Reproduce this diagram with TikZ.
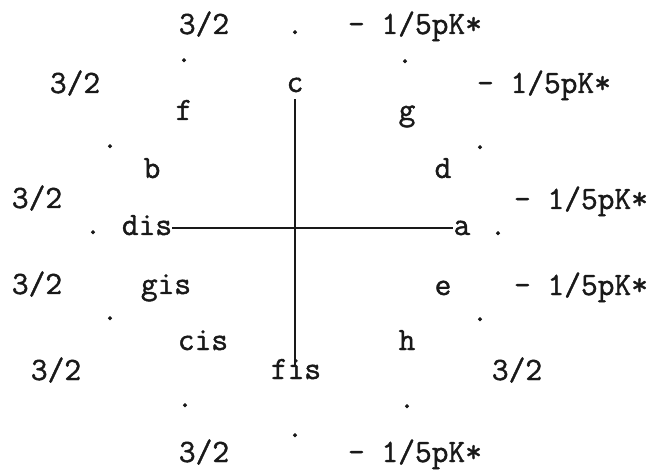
\documentclass[tikz,border=0pt]{standalone}
\usepackage{fontspec}
\newfontfamily\courfont[FakeBold=1.3]{Latin Modern Mono}
\begin{document}
\begin{tikzpicture}[x=1pt,y=-1pt,
  lbl/.style={anchor=base,inner sep=0pt,font=\courfont\fontsize{32.5}{32.5}\selectfont,text=black!90},
  conn/.style={line width=1.7pt,black!90}]
\useasboundingbox[fill=white] (0,0) rectangle (653,470);
% note names
\node[lbl] (c)   at (295,92)  {c};
\node[lbl] (g)   at (407,120) {g};
\node[lbl] (d)   at (443,178) {d};
\node[lbl] (a)   at (462,235) {a};
\node[lbl] (e)   at (443,295) {e};
\node[lbl] (h)   at (407,350) {h};
\node[lbl] (fis) at (296,379) {fis};
\node[lbl] (cis) at (203,350) {cis};
\node[lbl] (gis) at (166,294) {gis};
\node[lbl] (dis) at (147,235) {dis};
\node[lbl] (b)   at (152,178) {b};
\node[lbl] (f)   at (184,120) {f};
% dots
\node[lbl] (p1)  at (295,34)  {.};
\node[lbl] (p2)  at (184,62)  {.};
\node[lbl] (p3)  at (405,63)  {.};
\node[lbl] (p4)  at (110,148) {.};
\node[lbl] (p5)  at (480,149) {.};
\node[lbl] (p6)  at (93,234)  {.};
\node[lbl] (p7)  at (498,235) {.};
\node[lbl] (p8)  at (110,320) {.};
\node[lbl] (p9)  at (480,321) {.};
\node[lbl] (p10) at (185,407) {.};
\node[lbl] (p11) at (407,408) {.};
\node[lbl] (p12) at (295,437) {.};
% weights
\node[lbl] (w1)  at (204,34)  {3/2};
\node[lbl] (k1)  at (415,34)  {- 1/5pK*};
\node[lbl] (w2)  at (75,93)   {3/2};
\node[lbl] (k2)  at (544,93)  {- 1/5pK*};
\node[lbl] (w3)  at (37,208)  {3/2};
\node[lbl] (k3)  at (581,209) {- 1/5pK*};
\node[lbl] (w4)  at (37,294)  {3/2};
\node[lbl] (k4)  at (581,295) {- 1/5pK*};
\node[lbl] (w5)  at (56,380)  {3/2};
\node[lbl] (w6)  at (517,380) {3/2};
\node[lbl] (w7)  at (204,462) {3/2};
\node[lbl] (k7)  at (415,462) {- 1/5pK*};
% axes
\draw[conn] ([yshift=7pt]dis.base east) -- ([yshift=7pt]a.base west);
\draw[conn] ([yshift=-7pt]c.south) -- ([yshift=-6pt]c.south |- fis.north);
\end{tikzpicture}
\end{document}
